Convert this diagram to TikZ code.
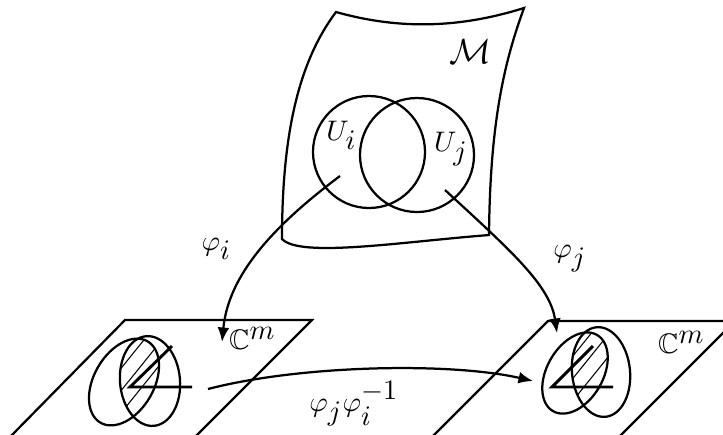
\documentclass[tikz,border=0pt]{standalone}
\usepackage{amsmath,amssymb}
\usetikzlibrary{arrows.meta}
\newcommand{\ts}[1]{{\textstyle #1}}
\begin{document}
\begin{tikzpicture}[x=0.0133cm,y=-0.0133cm,
  edge/.style={line width=0.85pt},
  arr/.style={line width=0.85pt,-{Latex[length=5.5pt,width=4.5pt]}},
  hatch/.style={line width=0.4pt},
  axes/.style={line width=1.1pt},
  lbl/.style={inner sep=0pt, scale=1.07},
  biglbl/.style={inner sep=0pt, scale=1.32}]
\useasboundingbox (0,0) rectangle (723,434);
\clip (0,0) rectangle (723,434);
% manifold sheet
\draw[edge] (336,12) .. controls (400,30) and (460,28) .. (524,8)
  .. controls (505,60) and (490,120) .. (489,235)
  .. controls (400,242) and (300,258) .. (282,239)
  .. controls (282,130) and (300,60) .. cycle;
\draw[edge] (369,152) circle [radius=56];
\draw[edge] (417,155) circle [radius=57];
\node[biglbl] (M) at (470,52) {$\mathcal{M}$};
\node[lbl] (Ui) at (341.5,135) {$U_{\ts{i}}$};
\node[lbl] (Uj) at (451,149.5) {$U_{\ts{j}}$};
% left plane
\draw[edge] (10,437) -- (125,320) -- (312,320) -- (195,437);
\draw[edge, rotate around={-30:(124,382)}] (124,382) ellipse [x radius=30, y radius=47];
\draw[edge, rotate around={5:(150,381)}] (150,381) ellipse [x radius=30, y radius=45];
\begin{scope}
\clip[rotate around={-30:(124,382)}] (124,382) ellipse [x radius=30, y radius=47];
\clip[rotate around={5:(150,381)}] (150,381) ellipse [x radius=30, y radius=45];
\foreach \k in {-120,-102,...,120} \draw[hatch] (140+\k-50,382+62) -- (140+\k+50,382-62);
\end{scope}
\draw[axes] (172,346) -- (130,387) -- (192,387);
\node[lbl] (Cl) at (252.5,338.5) {$\mathbb{C}^{\ts{m}}$};
% right plane
\draw[edge] (432,437) -- (548,321) -- (735,321) -- (619,437);
\draw[edge, rotate around={-30:(575,373)}] (575,373) ellipse [x radius=28, y radius=44];
\draw[edge, rotate around={6:(601,372)}] (601,372) ellipse [x radius=29, y radius=45];
\begin{scope}
\clip[rotate around={-30:(575,373)}] (575,373) ellipse [x radius=28, y radius=44];
\clip[rotate around={6:(601,372)}] (601,372) ellipse [x radius=29, y radius=45];
\foreach \k in {-120,-102,...,120} \draw[hatch] (590+\k-50,372+62) -- (590+\k+50,372-62);
\end{scope}
\draw[axes] (593,346) -- (552,387) -- (613,387);
\node[lbl] (Cr) at (681.5,342.5) {$\mathbb{C}^{\ts{m}}$};
% maps
\coordinate (ai) at (340,176);
\coordinate (bi) at (222,342);
\coordinate (aj) at (445,190);
\coordinate (bj) at (557,333);
\coordinate (ak) at (208,389);
\coordinate (bk) at (533,381);
\draw[arr] (ai) .. controls (265,232) and (228,280) .. (bi);
\draw[arr] (aj) .. controls (510,250) and (550,285) .. (bj);
\draw[arr] (ak) .. controls (300,365) and (450,362) .. (bk);
\node[lbl] (phii) at (216.5,248.5) {$\varphi_{\ts{i}}$};
\node[lbl] (phij) at (570,259) {$\varphi_{\ts{j}}$};
\node[lbl] (phik) at (354,404) {$\varphi_{\ts{j}}\varphi_{\ts{i}}^{\ts{-1}}$};
\end{tikzpicture}
\end{document}
